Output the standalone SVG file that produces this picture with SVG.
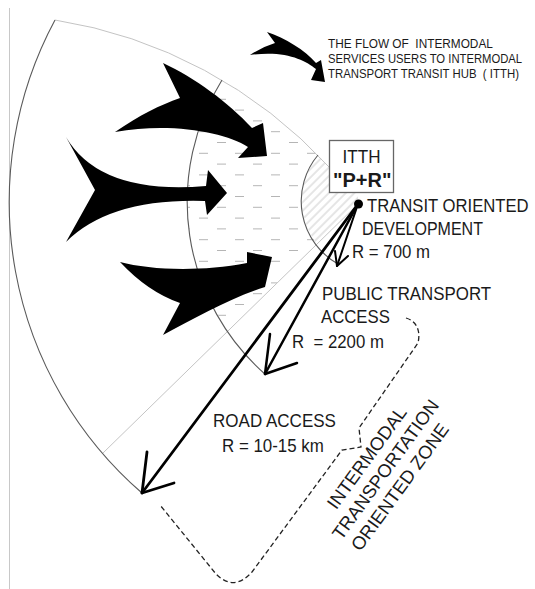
<svg xmlns="http://www.w3.org/2000/svg" width="535" height="589" viewBox="0 0 535 589">
<defs>
<style>
.t{font-family:"Liberation Sans",Arial,sans-serif;fill:#1a1a1a;}
.l{font-size:12.5px;}
.m{font-size:18px;}
.thin{fill:none;stroke:#c4c4c4;stroke-width:1;}
.arc{fill:none;stroke:#5a5a5a;stroke-width:1.1;}
.flow{fill:#000;stroke:none;}
.shaft{fill:none;stroke:#000;stroke-linecap:round;stroke-linejoin:round;}
.dash{fill:none;stroke:#222;stroke-width:1.3;stroke-dasharray:5 3;}
</style>
<pattern id="bricks" patternUnits="userSpaceOnUse" x="235" y="196" width="36" height="21.6">
<line x1="0" y1="0.5" x2="9" y2="0.5" stroke="#b4b4b4" stroke-width="1"/>
<line x1="18" y1="11.3" x2="27" y2="11.3" stroke="#b4b4b4" stroke-width="1"/>
</pattern>
<pattern id="hatch" patternUnits="userSpaceOnUse" width="8" height="6" patternTransform="rotate(-45)">
<line x1="0" y1="3" x2="8" y2="3" stroke="#c6c6c6" stroke-width="0.9"/>
</pattern>
<clipPath id="midClip"><path d="M222,80 A472,472 0 0 1 318,155 A72,72 0 0 0 317,244 L228,331 A230,230 0 0 1 222,80 Z"/></clipPath>
<clipPath id="innerClip"><path d="M318,155 A72,72 0 0 0 317,244 L358,204 L358,193 L329,193 L329,167 Z"/></clipPath>
</defs>
<rect width="535" height="589" fill="#fff"/>

<g id="zone">
<line x1="9.5" y1="8" x2="9.5" y2="589" stroke="#c8c8c8" stroke-width="1"/>
<rect x="0" y="0" width="535" height="589" fill="url(#bricks)" clip-path="url(#midClip)"/>
<rect x="0" y="0" width="535" height="589" fill="url(#hatch)" clip-path="url(#innerClip)"/>
<path class="thin" d="M55,20 A472,472 0 0 1 329,167"/>
<line class="thin" x1="358" y1="204" x2="103" y2="453"/>
<path class="arc" d="M55,20 A385,385 0 0 0 142,493"/>
<path class="arc" d="M222,80 A230,230 0 0 0 266,375"/>
<path class="arc" stroke="#777" d="M318,155 A72,72 0 0 0 338,264"/>
</g>

<g id="flows">
<path class="flow" d="M163,63 C195,78 228,102 252,128 L263,123 L267,156 L238,158 L248,147 C225,132 170,122 115,132 C140,115 160,105 180,98 Z"/>
<path class="flow" d="M66,137 Q100,195 206,186 L208,170 L227,193 L207,215 L205,201 Q110,198 66,242 L95,190 Z"/>
<path class="flow" d="M120,262 C150,270 200,272 247,263 L247,252 L272,257 L265,287 C230,298 195,318 163,335 L180,303 Q148,292 120,262 Z"/>
</g>

<g id="legend">
<path class="flow" d="M267,32 C285,38 305,50 316,63 L321,60 L325,82 L311,80 L316,69 C305,60 285,50 250,55 Q262,47 275,43 Z"/>
<text class="t l" xml:space="preserve" transform="translate(328,48) scale(0.947,1)">THE FLOW OF  INTERMODAL</text>
<text class="t l" transform="translate(328,63) scale(0.903,1)">SERVICES USERS TO INTERMODAL</text>
<text class="t l" xml:space="preserve" transform="translate(328,78) scale(0.912,1)">TRANSPORT TRANSIT HUB  ( ITTH)</text>
</g>

<g id="connectors">
<line class="shaft" stroke-width="2" x1="358" y1="204" x2="337" y2="266"/>
<polyline class="shaft" stroke-width="2" points="335,251 337,266 348,256"/>
<line class="shaft" stroke-width="2.5" x1="358" y1="204" x2="265" y2="374"/>
<polyline class="shaft" stroke-width="2.5" points="270,334 265,374 297,363"/>
<line class="shaft" stroke-width="2.8" x1="358" y1="204" x2="142" y2="493"/>
<polyline class="shaft" stroke-width="2.8" points="147,452 142,493 174,483"/>
<path class="dash" d="M406,318 C416,321 421,330 418,343 L359,428 L361,447 L342,450 L252,572 Q234,592 216,574 L160,505"/>
</g>

<g id="itth">
<rect x="329.5" y="140.5" width="64" height="52" fill="#fff" stroke="#666" stroke-width="1.3"/>
<text class="t m" text-anchor="middle" transform="translate(361.5,163) scale(0.95,1)">ITTH</text>
<text class="t" font-size="20" font-weight="bold" x="333" y="187">"P+R"</text>
</g>

<g id="center">
<circle cx="358.5" cy="204" r="4.5" fill="#000"/>
</g>

<g id="tod">
<text class="t m" transform="translate(367,212) scale(0.926,1)">TRANSIT ORIENTED</text>
<text class="t m" transform="translate(362,235) scale(0.89,1)">DEVELOPMENT</text>
<text class="t m" transform="translate(352,258) scale(0.934,1)">R = 700 m</text>
</g>

<g id="public">
<text class="t m" transform="translate(322,300) scale(0.939,1)">PUBLIC TRANSPORT</text>
<text class="t m" transform="translate(321,323) scale(0.932,1)">ACCESS</text>
<text class="t m" xml:space="preserve" transform="translate(292,348) scale(0.933,1)">R  = 2200 m</text>
</g>

<g id="road">
<text class="t m" transform="translate(213,427) scale(0.946,1)">ROAD ACCESS</text>
<text class="t m" transform="translate(222,452) scale(0.94,1)">R = 10-15 km</text>
</g>

<g id="itoz" transform="translate(385,469) rotate(-54)">
<text class="t" font-size="18.5" x="-1.6" y="-15" text-anchor="middle">INTERMODAL</text>
<text class="t" font-size="18.5" x="0" y="7" text-anchor="middle">TRANSPORTATION</text>
<text class="t" font-size="18.5" x="-5.8" y="29" text-anchor="middle">ORIENTED ZONE</text>
</g>
</svg>
